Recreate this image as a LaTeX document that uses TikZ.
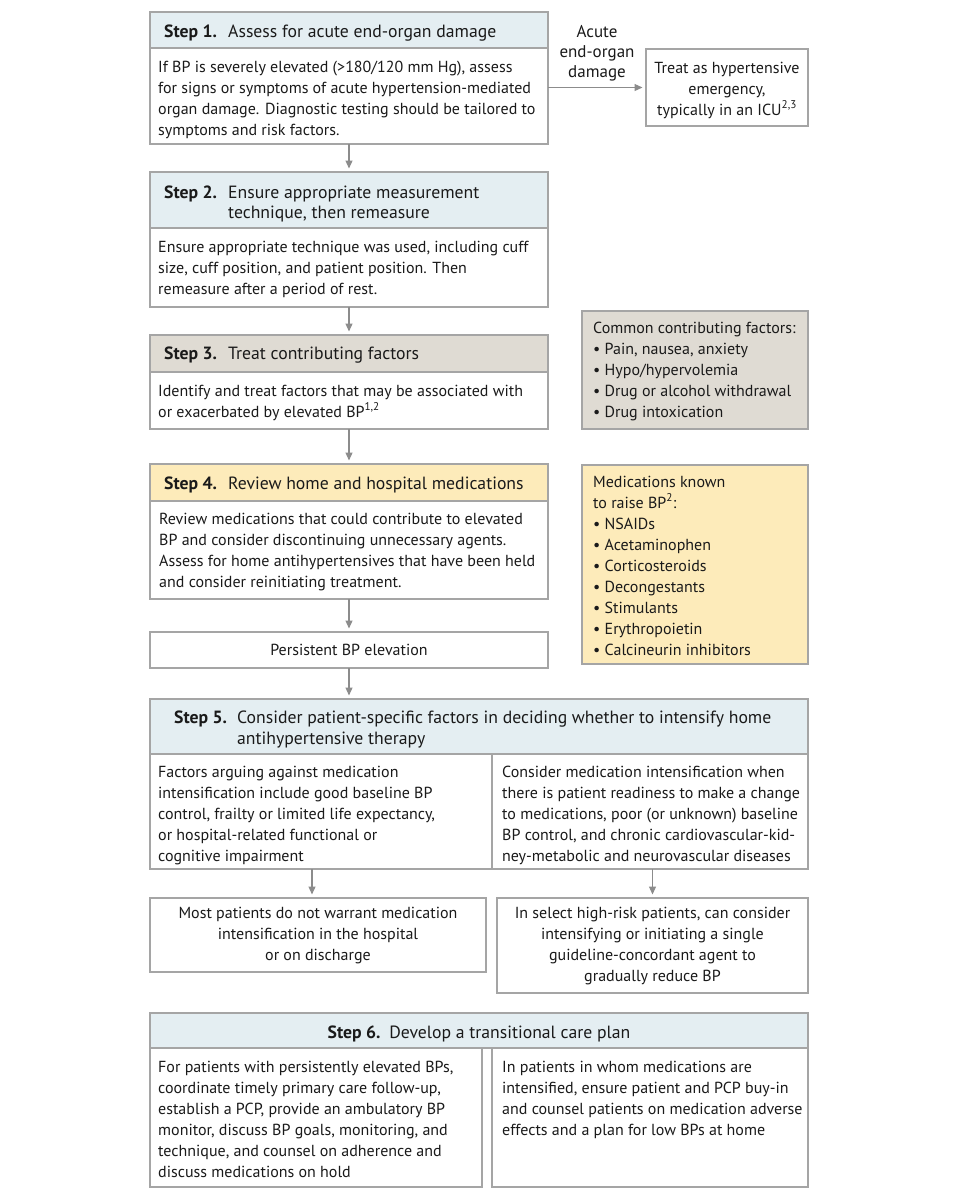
\documentclass[tikz,border=0pt]{standalone}
\usepackage{fontspec}
\setmainfont{PT Sans}
\usetikzlibrary{arrows.meta}
\definecolor{bord}{HTML}{A5A5A5}
\definecolor{arrc}{HTML}{8C8C8C}
\definecolor{hblue}{HTML}{E4EEF2}
\definecolor{hgray}{HTML}{DFDBD3}
\definecolor{hyel}{HTML}{FDEBBA}
\definecolor{txt}{HTML}{1A1A1A}
\tikzset{
  boxn/.style={draw=bord, line width=1.3pt, rectangle, inner sep=0pt, outer sep=0pt, anchor=north west, fill=white},
  btxt/.style={anchor=north west, inner sep=0pt, align=left, font=\fontsize{16}{21}\selectfont, text=txt},
  ctxt/.style={anchor=north, inner sep=0pt, align=center, font=\fontsize{16}{21}\selectfont, text=txt},
  htxt/.style={anchor=base west, inner sep=0pt, font=\fontsize{17.7}{21}\selectfont, text=txt},
  hlab/.style={anchor=base west, inner sep=0pt, font=\fontsize{17.7}{21}\selectfont\bfseries, text=txt},
  arr/.style={draw=arrc, line width=1.2pt, -{Triangle[length=8pt,width=7pt]}, shorten >=3.5pt},
}
\begin{document}
\begin{tikzpicture}[x=1pt,y=-1pt]
\useasboundingbox[fill=white] (0,0) rectangle (960,1200);

% Step 1
\node[boxn, fill=hblue, minimum width=398pt, minimum height=36pt] (s1h) at (150,12) {};
\node[boxn, minimum width=398pt, minimum height=96pt] (s1) at (150,48) {};
\node[hlab] (s1l) at (164,37.5) {Step 1.};
\node[htxt] (s1t) at (228,37.5) {Assess for acute end-organ damage};
\node[btxt] (s1b) at (158,57.3) {\strut If BP is severely elevated (>180/120 mm Hg), assess\\for signs or symptoms of acute hypertension-mediated\\organ damage. Diagnostic testing should be tailored to\\symptoms and risk factors.};

% Treat as emergency
\node[boxn, minimum width=162pt, minimum height=77pt] (tr) at (646,49) {};
\node[ctxt] (trt) at (727,58.3) {\strut Treat as hypertensive\\emergency,\\typically in an ICU\textsuperscript{2,3}};
\node[anchor=north, inner sep=0pt, align=center, font=\fontsize{17}{20}\selectfont, text=txt] (lab) at (597,23.5) {\strut Acute\\end-organ\\damage};
\draw[arr] (s1.east |- tr.west) -- (tr.west);

% Step 2
\node[boxn, fill=hblue, minimum width=398pt, minimum height=56pt] (s2h) at (150,172) {};
\node[boxn, minimum width=398pt, minimum height=79pt] (s2) at (150,228) {};
\node[hlab] (s2l) at (164,198) {Step 2.};
\node[anchor=north west, inner sep=0pt, align=left, font=\fontsize{17.7}{20}\selectfont, text=txt] (s2t) at (228,184) {\strut Ensure appropriate measurement\\technique, then remeasure};
\node[btxt] (s2b) at (158,237.3) {\strut Ensure appropriate technique was used, including cuff\\size, cuff position, and patient position. Then\\remeasure after a period of rest.};
\draw[arr] (s1.south) -- (s2h.north);

% Step 3
\node[boxn, fill=hgray, minimum width=398pt, minimum height=37pt] (s3h) at (150,335) {};
\node[boxn, minimum width=398pt, minimum height=57pt] (s3) at (150,372) {};
\node[hlab] (s3l) at (164,359) {Step 3.};
\node[htxt] (s3t) at (228,359) {Treat contributing factors};
\node[btxt] (s3b) at (158,381.3) {\strut Identify and treat factors that may be associated with\\or exacerbated by elevated BP\textsuperscript{1,2}};
\draw[arr] (s2.south) -- (s3h.north);

% Common contributing factors
\node[boxn, fill=hgray, minimum width=226pt, minimum height=118pt] (cf) at (582,311) {};
\node[btxt] (cft) at (593,318.3) {\strut Common contributing factors:\\• Pain, nausea, anxiety\\• Hypo/hypervolemia\\• Drug or alcohol withdrawal\\• Drug intoxication};

% Step 4
\node[boxn, fill=hyel, minimum width=398pt, minimum height=37pt] (s4h) at (150,464) {};
\node[boxn, minimum width=398pt, minimum height=98pt] (s4) at (150,501) {};
\node[hlab] (s4l) at (164,489) {Step 4.};
\node[htxt] (s4t) at (228,489) {Review home and hospital medications};
\node[btxt] (s4b) at (159,509.3) {\strut Review medications that could contribute to elevated\\BP and consider discontinuing unnecessary agents.\\Assess for home antihypertensives that have been held\\and consider reinitiating treatment.};
\draw[arr] (s3.south) -- (s4h.north);

% Medications known to raise BP
\node[boxn, fill=hyel, minimum width=226pt, minimum height=199pt] (md) at (582,465) {};
\node[btxt] (mdt) at (593,472.3) {\strut Medications known\\to raise BP\textsuperscript{2}:\\• NSAIDs\\• Acetaminophen\\• Corticosteroids\\• Decongestants\\• Stimulants\\• Erythropoietin\\• Calcineurin inhibitors};

% Persistent BP elevation
\node[boxn, minimum width=398pt, minimum height=36pt] (pe) at (150,632) {};
\node[anchor=center, inner sep=0pt, font=\fontsize{16}{21}\selectfont, text=txt] (pet) at (349,650) {Persistent BP elevation};
\draw[arr] (s4.south) -- (pe.north);

% Step 5
\node[boxn, fill=hblue, minimum width=658pt, minimum height=55pt] (s5h) at (150,699) {};
\node[boxn, minimum width=658pt, minimum height=115pt] (s5) at (150,754) {};
\coordinate (dvt) at (492,754);
\coordinate (dvb) at (492,869);
\draw[draw=bord, line width=1.3pt] (dvt) -- (dvb);
\node[hlab] (s5l) at (174,723) {Step 5.};
\node[anchor=north west, inner sep=0pt, align=left, font=\fontsize{17.7}{21}\selectfont, text=txt] (s5t) at (237,708.3) {\strut Consider patient-specific factors in deciding whether to intensify home\\antihypertensive therapy};
\node[btxt] (s5a) at (158,762.3) {\strut Factors arguing against medication\\intensification include good baseline BP\\control, frailty or limited life expectancy,\\or hospital-related functional or\\cognitive impairment};
\node[btxt] (s5b) at (502,762.3) {\strut Consider medication intensification when\\there is patient readiness to make a change\\to medications, poor (or unknown) baseline\\BP control, and chronic cardiovascular-kid-\\ney-metabolic and neurovascular diseases};
\draw[arr] (pe.south) -- (pe.south |- s5h.north);

% Outcome boxes
\node[boxn, minimum width=336pt, minimum height=74pt] (lb) at (150,898) {};
\node[ctxt] (lbt) at (318,903.3) {\strut Most patients do not warrant medication\\intensification in the hospital\\or on discharge};
\node[boxn, minimum width=311pt, minimum height=95pt] (rb) at (497,898) {};
\node[ctxt] (rbt) at (652.5,903.3) {\strut In select high-risk patients, can consider\\intensifying or initiating a single\\guideline-concordant agent to\\gradually reduce BP};
\draw[arr] ([xshift=-6pt]lb.north |- s5.south) -- ([xshift=-6pt]lb.north);
\draw[arr] (rb.north |- s5.south) -- (rb.north);

% Step 6
\node[boxn, fill=hblue, minimum width=658pt, minimum height=35pt] (s6h) at (150,1013) {};
\node[boxn, minimum width=332pt, minimum height=139pt] (s6a) at (150,1048) {};
\node[boxn, minimum width=316pt, minimum height=139pt] (s6b) at (492,1048) {};
\node[anchor=base, inner sep=0pt, font=\fontsize{17.7}{21}\selectfont, text=txt] (s6t) at (479,1038) {\textbf{Step 6.}\enspace Develop a transitional care plan};
\node[btxt] (s6at) at (158,1057.3) {\strut For patients with persistently elevated BPs,\\coordinate timely primary care follow-up,\\establish a PCP, provide an ambulatory BP\\monitor, discuss BP goals, monitoring, and\\technique, and counsel on adherence and\\discuss medications on hold};
\node[btxt] (s6bt) at (502,1057.3) {\strut In patients in whom medications are\\intensified, ensure patient and PCP buy-in\\and counsel patients on medication adverse\\effects and a plan for low BPs at home};
\end{tikzpicture}
\end{document}
